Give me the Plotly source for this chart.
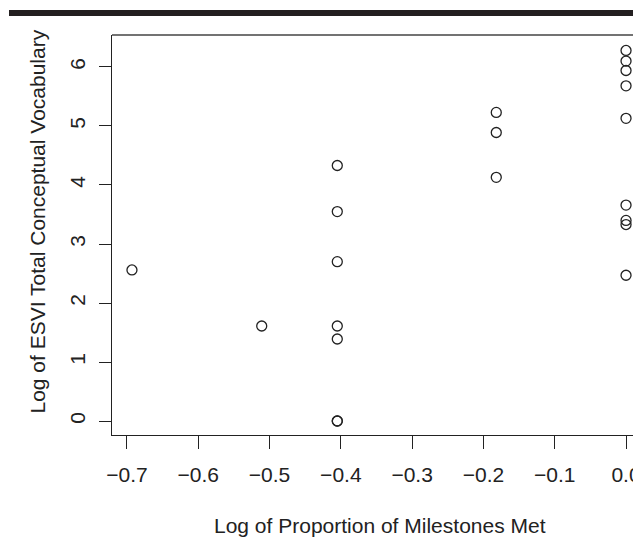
import plotly.graph_objects as go

# Data
x_vals = [-0.693, -0.511,
          -0.405, -0.405, -0.405, -0.405, -0.405, -0.405, -0.405,
          -0.182, -0.182, -0.182,
          0.0, 0.0, 0.0, 0.0, 0.0, 0.0, 0.0, 0.0, 0.0]
y_vals = [2.56, 1.61,
          4.33, 3.55, 2.70, 1.61, 1.39, 0.0, 0.0,
          5.23, 4.89, 4.13,
          6.28, 6.10, 5.94, 5.68, 5.13, 3.66, 3.40, 3.33, 2.47]
x_ticks = [-0.7, -0.6, -0.5, -0.4, -0.3, -0.2, -0.1, 0.0]
y_ticks = [0, 1, 2, 3, 4, 5, 6]
x_title = "Log of Proportion of Milestones Met"
y_title = "Log of ESVI Total Conceptual Vocabulary"

# The page body adds an 8px margin, so the figure is 8px smaller than the window
W, H = 633, 541
L, R, T, B = 104, 0, 27, 114
PW, PH = W - L - R, H - T - B
FONT = "Liberation Sans, Arial, sans-serif"
FS = 21
INK = "#222222"

fig = go.Figure()
fig.add_trace(go.Scatter(
    x=x_vals, y=y_vals, mode="markers",
    marker=dict(symbol="circle-open", size=10, color=INK,
                line=dict(width=1.3, color=INK)),
    showlegend=False, hoverinfo="skip"))

fig.update_layout(
    width=W, height=H,
    margin=dict(l=L, r=R, t=T, b=B),
    paper_bgcolor="white", plot_bgcolor="white",
    font=dict(family=FONT, size=FS, color=INK),
    xaxis=dict(range=[-0.721, 0.021], tickvals=x_ticks, tickformat=".1f",
               showgrid=False, zeroline=False, showline=True, linecolor=INK,
               linewidth=1.3, ticks="outside", ticklen=13, tickwidth=1.2,
               tickcolor=INK, ticklabelstandoff=8),
    yaxis=dict(range=[-0.237, 6.542], tickvals=y_ticks, tickangle=-90,
               showgrid=False, zeroline=False, showline=True, linecolor=INK,
               linewidth=1.3, ticks="outside", ticklen=12, tickwidth=1.2,
               tickcolor=INK, ticklabelstandoff=5),
    annotations=[
        dict(text=x_title, xref="paper", yref="paper",
             x=(372 - L) / PW, y=(T + PH - 517) / PH,
             xanchor="center", yanchor="middle", showarrow=False,
             font=dict(size=FS, color=INK)),
        dict(text=y_title, xref="paper", yref="paper",
             x=(28.5 - L) / PW, y=(T + PH - 214) / PH, textangle=-90,
             xanchor="center", yanchor="middle", showarrow=False,
             font=dict(size=FS, color=INK)),
    ],
    shapes=[
        # top border of the plot box
        dict(type="line", xref="paper", yref="paper", x0=0, x1=1, y0=1, y1=1,
             line=dict(color="#444444", width=1.6)),
        # thick black band at top of page
        dict(type="rect", xref="paper", yref="paper",
             x0=(1 - L) / PW, x1=1.0,
             y0=1 + (T - 8) / PH, y1=1 + (T - 2) / PH,
             fillcolor="#231f20", line=dict(width=0), layer="above"),
    ],
)

fig.write_html("out.html")
